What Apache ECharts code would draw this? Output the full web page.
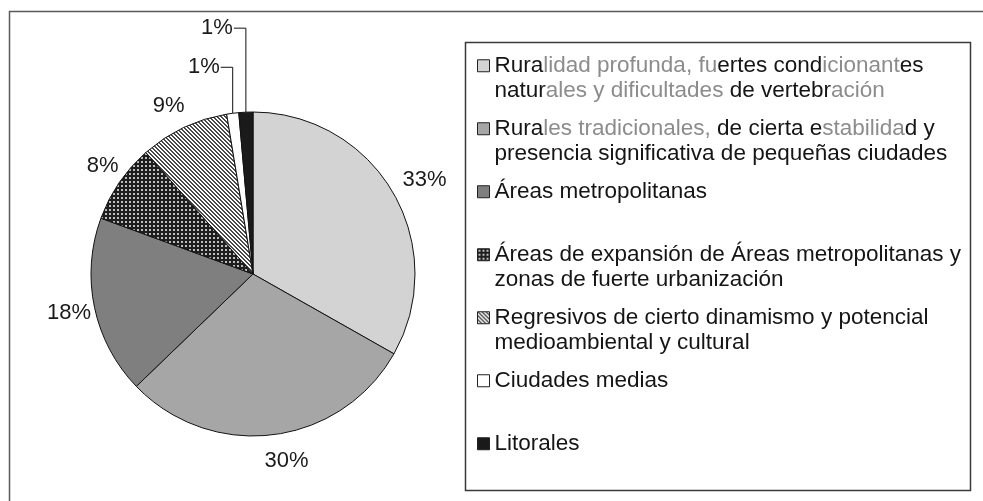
<!DOCTYPE html>
<html><head><meta charset="utf-8">
<script src="https://cdn.jsdelivr.net/npm/echarts@6/dist/echarts.min.js"></script>
<style>html,body{margin:0;padding:0;background:#fff}#c{width:983px;height:501px}</style>
</head><body><div id="c"></div>
<script>
// ---- data ----
const categories = [
  'Ruralidad profunda, fuertes condicionantes naturales y dificultades de vertebración',
  'Rurales tradicionales, de cierta estabilidad y presencia significativa de pequeñas ciudades',
  'Áreas metropolitanas',
  'Áreas de expansión de Áreas metropolitanas y zonas de fuerte urbanización',
  'Regresivos de cierto dinamismo y potencial medioambiental y cultural',
  'Ciudades medias',
  'Litorales'
];
const values = [33.2, 29.6, 17.8, 7.9, 8.9, 1.2, 1.4];
const legendLines = [
  ['{b|Rura}{g|lidad profunda, fu}{b|ertes cond}{g|icionant}{b|es}', '{b|natur}{g|ales y dificultades}{b| de vertebr}{g|ación}'],
  ['{b|Rura}{g|les tradicionales,}{b| de cierta e}{g|stabilida}{b|d y}', '{b|presencia significativa de pequeñas ciudades}'],
  ['{b|Áreas metropolitanas}', '{b| }'],
  ['{b|Áreas de expansión de Áreas metropolitanas y}', '{b|zonas de fuerte urbanización}'],
  ['{b|Regresivos de cierto dinamismo y potencial}', '{b|medioambiental y cultural}'],
  ['{b|Ciudades medias}', '{b| }'],
  ['{b|Litorales}', '{b| }']
];

// ---- styles ----
const FONT = "'Liberation Sans', Arial, sans-serif";
const CX = 253, CY = 274, R = 162;
function makePattern(size, bg, fg, test) {
  const cv = document.createElement('canvas');
  cv.width = cv.height = size;
  const ctx = cv.getContext('2d');
  ctx.fillStyle = bg; ctx.fillRect(0, 0, size, size);
  ctx.fillStyle = fg;
  for (let y = 0; y < size; y++) for (let x = 0; x < size; x++) if (test(x, y)) ctx.fillRect(x, y, 1, 1);
  return { image: cv, repeat: 'repeat' };
}
const dotPattern = makePattern(4, '#1e1e1e', '#bdbdbd', (x, y) => (x === 1 || x === 2) && (y === 1 || y === 2));
const stripePattern = makePattern(4, '#ffffff', '#4a4a4a', (x, y) => ((x - y + 8) % 4) < 2);
const fills = ['#d3d3d3', '#a6a6a6', '#7f7f7f', dotPattern, stripePattern, '#ffffff', '#1a1a1a'];

const total = values.reduce((a, b) => a + b, 0);
let acc = 0;
const mids = values.map(v => { const m = (acc + v / 2) / total * 360; acc += v; return m; });
const labelDist = [33, 25, 26, 25, 28];
const labelShift = [[3, 4], [10, 1], [0, 0], [4, -2], [-3, 4]];
const leaderRise = { 5: 46, 6: 84 };
const leaderRun = 12;
const LEG_FS = 22.5;

const chart = echarts.init(document.getElementById('c'), null, { renderer: 'canvas' });
chart.setOption({
  animation: false,
  graphic: [
    { type: 'rect', silent: true, z: -10, shape: { x: 9.5, y: 11.5, width: 1000, height: 520 },
      style: { fill: 'none', stroke: '#5a5a5a', lineWidth: 1.5 } },
    { type: 'rect', silent: true, z: -10, shape: { x: 465.5, y: 42.5, width: 505, height: 448 },
      style: { fill: 'none', stroke: '#3a3a3a', lineWidth: 1.5 } }
  ],
  legend: {
    orient: 'vertical', left: 477, top: 53, padding: 0, itemGap: 12,
    itemWidth: 12, itemHeight: 37.5,
    icon: 'path://M0,0L12,0L12,12L0,12Z M0,37.5L0,37.5',
    selectedMode: false,
    data: categories,
    formatter: name => legendLines[categories.indexOf(name)].join('\n'),
    itemStyle: { borderColor: '#222', borderWidth: 1 },
    textStyle: {
      fontFamily: FONT, fontSize: LEG_FS, lineHeight: 25.5, color: '#151515',
      rich: {
        b: { fontFamily: FONT, fontSize: LEG_FS, lineHeight: 25.5, color: '#151515' },
        g: { fontFamily: FONT, fontSize: LEG_FS, lineHeight: 25.5, color: '#8c8c8c' }
      }
    }
  },
  series: [{
    type: 'pie', center: [CX, CY], radius: R, startAngle: 90, clockwise: true,
    avoidLabelOverlap: false,
    emphasis: { disabled: true },
    itemStyle: { borderColor: '#111', borderWidth: 1 },
    label: { show: true, position: 'outside', formatter: p => Math.round(p.percent) + '%',
      fontFamily: FONT, fontSize: 22, color: '#1a1a1a' },
    labelLine: { show: false, length: 10, length2: 5, lineStyle: { color: '#111', width: 1 } },
    labelLayout: function (p) {
      const i = p.dataIndex;
      const th = mids[i] * Math.PI / 180;
      const s = Math.sin(th), c = Math.cos(th);
      if (i < 5) {
        const d = R + labelDist[i];
        return { x: CX + d * s + labelShift[i][0], y: CY - d * c + labelShift[i][1],
          align: 'center', verticalAlign: 'middle' };
      }
      const xv = CX + R * s, ya = CY - R * c;
      const ly = ya - leaderRise[i];
      return { x: xv - leaderRun - 1, y: ly, align: 'right', verticalAlign: 'middle',
        labelLinePoints: [[xv - leaderRun, ly], [xv, ly], [xv, ya]] };
    },
    data: categories.map((n, i) => ({ name: n, value: values[i], itemStyle: { color: fills[i] },
      labelLine: { show: i >= 5 } }))
  }]
});
</script></body></html>
